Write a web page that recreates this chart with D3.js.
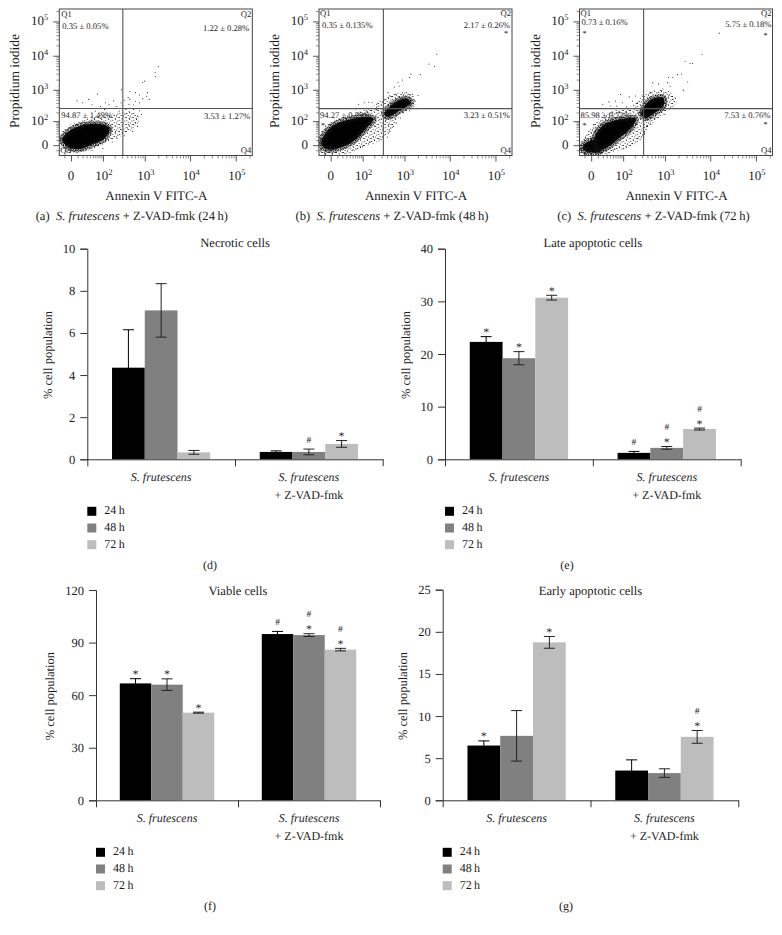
<!DOCTYPE html>
<html>
<head>
<meta charset="utf-8">
<title>S. frutescens flow cytometry</title>
<script src="https://d3js.org/d3.v7.min.js"></script>
<style>
  body { margin: 0; background: #fff; }
  svg { display: block; }
  text { font-family: "Liberation Serif", serif; fill: #1c1c1c; text-rendering: geometricPrecision; }
</style>
</head>
<body>
<svg id="chart" width="782" height="935"></svg>
<script>
// bar chart data
const groups = ['S. frutescens', 'S. frutescens + Z-VAD-fmk']
const timepoints = ['24\u2009h', '48\u2009h', '72\u2009h']

const necroticValues = [[4.35, 7.07, 0.33], [0.35, 0.35, 0.73]]
const necroticErrors = [[1.8, 1.27, 0.09], [0.05, 0.135, 0.16]]
const necroticMarks = [['', '', ''], ['', '#', '*']]

const lateValues = [[22.3, 19.2, 30.7], [1.22, 2.17, 5.75]]
const lateErrors = [[1.0, 1.25, 0.45], [0.28, 0.26, 0.18]]
const lateMarks = [['*', '*', '*'], ['#', '*#', '*#']]

const viableValues = [[66.7, 66, 50], [94.87, 94.27, 85.98]]
const viableErrors = [[2.7, 3.3, 0.3], [1.49, 0.79, 0.72]]
const viableMarks = [['*', '*', '*'], ['#', '*#', '*#']]

const earlyValues = [[6.5, 7.65, 18.75], [3.53, 3.23, 7.53]]
const earlyErrors = [[0.55, 3.0, 0.7], [1.27, 0.51, 0.76]]
const earlyMarks = [['*', '', '*'], ['', '', '*#']]

// flow cytometry data: [annexin, propidium iodide]
// the packed centre of each cloud is kept as an outline (core), its speckled edge as a lighter outline (halo)
const coreA = [[[-14, 11], [-3, 38], [11, 63], [47, 80], [110, 72], [150, 50], [110, 14], [47, 1], [11, -8], [-3, -4]]]
const haloA = [[-16, 15], [-5, 54], [11, 86], [60, 130], [225, 170], [533, 193], [700, 120], [400, 38], [150, 11], [60, -3], [11, -12], [-7, -10]]
const dotsA = [[2000, 4800], [1700, 3250], [1750, 2450], [1000, 1800], [900, 1650], [295, 1000], [460, 900], [620, 820],
  [760, 700], [1150, 820], [1100, 640], [900, 540], [1250, 513], [420, 580], [340, 480], [460, 513], [620, 450], [760, 405],
  [285, 405], [440, 360], [560, 345], [190, 460], [117, 405], [70, 750], [36, 513], [9, 460], [20, 405], [47, 350], [85, 310],
  [145, 350], [225, 310], [175, 267], [110, 250], [60, 220], [372, 250], [560, 250], [760, 225], [850, 170], [700, 150],
  [257, 220], [460, 130], [620, 86], [400, 54], [340, 22], [230, 14], [175, 6], [100, -6], [47, -10], [23, -12], [4, -14],
  [-7, -14], [-16, 3], [280, 47], [210, 38], [430, 75], [690, 63], [530, 38], [150, 150], [85, 125], [47, 110]]

const coreB = [
  [[-15, 7], [-3, 47], [11, 86], [47, 120], [117, 142], [190, 120], [117, 47], [52, 7], [21, -3], [0, -9], [-12, -3]],
  [[345, 170], [590, 405], [1150, 540], [1400, 405], [760, 225], [425, 140]]
]
const haloB = [[-18, 11], [-6, 63], [11, 114], [60, 170], [175, 250], [345, 513], [650, 725], [1400, 650], [1700, 360], [760, 170], [470, 46], [300, 15], [150, 3], [60, -9], [11, -18], [-12, -16]]
const dotsB = [[5200, 11000], [3500, 5700], [4650, 4900], [2250, 2800], [1400, 2900], [1300, 2300], [900, 1950], [720, 1650],
  [590, 1200], [760, 1300], [1100, 820], [2000, 670], [1500, 725], [425, 820], [620, 725], [900, 820], [1300, 725], [1700, 480],
  [340, 513], [470, 650], [230, 360], [175, 405], [110, 405], [76, 360], [145, 420], [40, 270], [65, 260], [230, 250], [125, 225],
  [1300, 225], [950, 193], [820, 130], [650, 86], [470, 38], [410, 18], [270, 11], [210, 63], [320, 54], [440, 75], [190, 18],
  [150, 6], [100, -3], [52, -9], [26, -18], [-18, -1], [-7, 20], [270, 114], [220, 150], [370, 100], [470, 150], [560, 63]]

const coreC = [
  [[-12, 0], [5, 11], [19, 3], [15, -13], [-3, -15], [-12, -9]],
  [[5, 20], [22, 74], [60, 108], [150, 130], [210, 125], [150, 46], [76, 15], [36, -2], [15, -9], [5, 0]],
  [[285, 170], [365, 360], [533, 540], [925, 580], [925, 320], [600, 193], [372, 130]]
]
const haloC = [[-19, 0], [-1, 38], [11, 99], [47, 193], [150, 250], [257, 455], [490, 820], [1190, 820], [1700, 455], [925, 193], [440, 74], [300, 20], [150, 0], [60, -9], [11, -20], [-12, -20]]
const dotsC = [[15700, 45500], [6600, 11000], [2800, 6900], [3600, 6000], [4100, 6000], [2350, 2900], [1900, 2800], [1500, 2300],
  [3200, 1700], [2550, 975], [1200, 2300], [1150, 1625], [720, 1500], [530, 1625], [1300, 1300], [900, 1050], [470, 820], [300, 650],
  [1500, 513], [1200, 650], [800, 950], [210, 650], [145, 610], [85, 725], [60, 455], [36, 430], [20, 360], [40, 320], [95, 405],
  [175, 455], [230, 405], [65, 320], [125, 300], [3, 74], [-3, 38], [-8, 15], [11, 46], [36, 130], [20, 193], [240, 193], [210, 80],
  [380, 63], [340, 31], [240, 15], [175, 3], [100, -7], [50, -9], [30, -20], [1000, 170], [1300, 270], [600, 130], [470, 85], [175, 63]]

const flowMajorTicks = [0, 100, 1000, 10000, 100000]
const flowMinorTicks = [-10, 10, 20, 30, 40, 50, 60, 70, 80, 90, 200, 300, 400, 500, 600, 700, 800, 900,
  2000, 3000, 4000, 5000, 6000, 7000, 8000, 9000, 20000, 30000, 40000, 50000, 60000, 70000, 80000, 90000, 200000]

const svg = d3.select('#chart')
svg.append('rect').attr('width', 782).attr('height', 935).attr('fill', '#fff')

const greys = ['#000000', '#808080', '#bdbdbd']

// speckle textures for the parts of the clouds too packed to read dot by dot
const defs = svg.append('defs')
function addSpeckle(id, size, spots, radius) {
  const pattern = defs.append('pattern').attr('id', id)
    .attr('patternUnits', 'userSpaceOnUse').attr('width', size).attr('height', size)
  pattern.selectAll('circle').data(spots).enter().append('circle')
    .attr('cx', d => d[0]).attr('cy', d => d[1]).attr('r', radius).attr('fill', '#111')
}
addSpeckle('sparse', 7, [[0.8, 1.2], [3.6, 0.5], [5.9, 2.1], [2.1, 3.4], [4.4, 4.1], [0.5, 5.6], [3.1, 6.2], [6.2, 5.5]], 0.5)
addSpeckle('dense', 5, [[0.5, 0.6], [2.2, 0.3], [3.9, 1.0], [1.2, 1.9], [2.9, 2.3], [4.6, 2.7], [0.3, 3.3], [2.0, 3.7], [3.6, 4.2], [1.0, 4.7]], 0.72)

/**
 * draw one flow cytometry dot plot
 *
 * @param {Object} p - panel layout and its data arrays
 */
function drawFlow(p) {
  const g = svg.append('g')
  const width = 193
  const top = 9
  const bottom = 155.5

  const x = d3.scaleSymlog().constant(25).domain([-20, 230000]).range([p.left, p.left + width])
  const y = d3.scaleSymlog().constant(25).domain([-25, 230000]).range([bottom, top])
  const outline = d3.line().x(d => x(d[0])).y(d => y(d[1])).curve(d3.curveCatmullRomClosed)

  g.append('path').attr('d', outline(p.halo))
    .attr('fill', 'url(#sparse)').attr('stroke', 'url(#sparse)').attr('stroke-width', 3)
  g.selectAll('path.core').data(p.core).enter().append('path')
    .attr('class', 'core')
    .attr('d', d => outline(d))
    .attr('fill', '#000')
    .attr('stroke', 'url(#dense)')
    .attr('stroke-width', 6)
  g.selectAll('circle').data(p.dots).enter().append('circle')
    .attr('cx', d => x(d[0]))
    .attr('cy', d => y(d[1]))
    .attr('r', 0.55)
    .attr('fill', '#222')

  // quadrant gates
  g.append('line').attr('x1', x(p.gate[0])).attr('x2', x(p.gate[0])).attr('y1', top).attr('y2', bottom)
    .attr('stroke', '#555').attr('stroke-width', 1.1)
  g.append('line').attr('x1', p.left).attr('x2', p.left + width).attr('y1', y(p.gate[1])).attr('y2', y(p.gate[1]))
    .attr('stroke', '#555').attr('stroke-width', 1.1)
  g.append('rect').attr('x', p.left).attr('y', top).attr('width', width).attr('height', bottom - top)
    .attr('fill', 'none').attr('stroke', '#444').attr('stroke-width', 1)

  // axes: short minor ticks, then the labelled major ones
  const minorX = d3.axisBottom(x).tickValues(flowMinorTicks).tickSize(3).tickFormat('')
  const minorY = d3.axisLeft(y).tickValues(flowMinorTicks).tickSize(3).tickFormat('')
  const majorX = d3.axisBottom(x).tickValues(flowMajorTicks).tickSize(6).tickPadding(9).tickFormat('')
  const majorY = d3.axisLeft(y).tickValues(flowMajorTicks).tickSize(6).tickPadding(4).tickFormat('')
  ;[[minorX, 0], [majorX, 1]].forEach(([a, major]) => {
    const ax = g.append('g').attr('transform', `translate(0,${bottom})`).call(a)
    ax.select('.domain').remove()
    ax.selectAll('line').attr('stroke', '#444').attr('stroke-width', major ? 0.9 : 0.6)
  })
  ;[[minorY, 0], [majorY, 1]].forEach(([a, major]) => {
    const ax = g.append('g').attr('transform', `translate(${p.left},0)`).call(a)
    ax.select('.domain').remove()
    ax.selectAll('line').attr('stroke', '#444').attr('stroke-width', major ? 0.9 : 0.6)
  })

  flowMajorTicks.forEach(t => {
    appendPower(g, t, x(t) + (t === 0 ? 0 : 1), 180, 'middle')
    appendPower(g, t, p.left - 11, y(t) + 4, 'end')
  })

  g.append('text').attr('x', p.left + 97).attr('y', 200).attr('text-anchor', 'middle')
    .attr('font-size', 13).text('Annexin V FITC-A')
  g.append('text').attr('transform', `translate(${p.left - 40},81) rotate(-90)`).attr('text-anchor', 'middle')
    .attr('font-size', 13.5).text('Propidium iodide')

  // quadrant names and percentages
  p.labels.forEach(l => {
    g.append('text').attr('x', p.left + l[1]).attr('y', l[2])
      .attr('text-anchor', l[3])
      .attr('font-size', l[0] === '*' ? 8 : 8.6)
      .text(l[0])
  })

  const caption = g.append('text').attr('x', p.left + p.captionDx).attr('y', 220).attr('text-anchor', 'middle').attr('font-size', 12.6)
  caption.append('tspan').text(`(${p.name})\u2002`)
  caption.append('tspan').attr('font-style', 'italic').text('S. frutescens')
  caption.append('tspan').text(` + Z-VAD-fmk (${p.hours}\u2009h)`)
}

function appendPower(g, value, px, py, anchor) {
  const t = g.append('text').attr('x', px).attr('y', py).attr('text-anchor', anchor).attr('font-size', 13)
  if(value === 0) {
    t.text('0')
    return
  }
  t.append('tspan').text('10')
  t.append('tspan').attr('font-size', 8.5).attr('dy', -5).text(Math.round(Math.log10(value)))
}

/**
 * draw one grouped bar panel with error bars, significance marks and legend
 *
 * @param {Object} p - panel layout and its data arrays
 */
function drawBars(p) {
  const g = svg.append('g')
  const y = d3.scaleLinear().domain([0, p.max]).range([p.y0, p.yTop])
  const x0 = d3.scaleBand().domain(d3.range(groups.length)).range([p.left, p.right]).paddingInner(0.335).paddingOuter(0.1675)
  const x1 = d3.scaleBand().domain(d3.range(timepoints.length)).range([0, x0.bandwidth()])

  const group = g.selectAll('g.group').data(p.values).enter().append('g')
    .attr('class', 'group')
    .attr('transform', (d, i) => `translate(${x0(i)},0)`)

  group.each(function(vals, gi) {
    const sel = d3.select(this)
    vals.forEach((v, i) => {
      const err = p.errors[gi][i]
      const cx = x1(i) + x1.bandwidth() / 2
      sel.append('rect').attr('x', x1(i)).attr('y', y(v))
        .attr('width', x1.bandwidth()).attr('height', p.y0 - y(v))
        .attr('fill', greys[i])
      const bar = sel.append('g').attr('stroke', i === 0 ? '#000' : '#222').attr('stroke-width', 1)
      bar.append('line').attr('x1', cx).attr('x2', cx).attr('y1', y(v + err)).attr('y2', y(v - err))
      bar.append('line').attr('x1', cx - 5.5).attr('x2', cx + 5.5).attr('y1', y(v + err)).attr('y2', y(v + err))
      bar.append('line').attr('x1', cx - 5.5).attr('x2', cx + 5.5).attr('y1', y(v - err)).attr('y2', y(v - err))

      const mark = p.marks[gi][i]
      const cap = y(v + err)
      if(mark.includes('*')) {
        sel.append('text').attr('x', cx).attr('y', cap - 0.5).attr('text-anchor', 'middle').attr('font-size', 12).text('*')
      }
      if(mark.includes('#')) {
        sel.append('text').attr('x', cx).attr('y', cap - (mark.includes('*') ? 16.5 : 6.5))
          .attr('text-anchor', 'middle').attr('font-size', 9.5).text('#')
      }
    })
  })

  // axes
  const yAxis = d3.axisLeft(y).tickValues(p.ticks).tickSize(7).tickPadding(5)
  const ax = g.append('g').attr('transform', `translate(${p.left},0)`).call(yAxis)
  ax.selectAll('text').attr('font-size', 12.5).attr('font-family', '"Liberation Serif", serif')
  ax.selectAll('line, path').attr('stroke', '#333')

  const xTick = d3.scaleLinear().domain([0, 2]).range([p.left, p.right])
  const xAxis = d3.axisBottom(xTick).tickValues([0, 1, 2]).tickSize(7).tickSizeOuter(0).tickFormat('')
  const bx = g.append('g').attr('transform', `translate(0,${p.y0})`).call(xAxis)
  bx.selectAll('line, path').attr('stroke', '#333')

  g.append('text').attr('x', (p.left + p.right) / 2).attr('y', p.yTop - 2 + p.titleDy).attr('text-anchor', 'middle')
    .attr('font-size', 12.6).text(p.title)
  g.append('text').attr('transform', `translate(${p.left + p.yTitleDx},${(p.y0 + p.yTop) / 2 + 1}) rotate(-90)`)
    .attr('text-anchor', 'middle').attr('font-size', 12.5).text('% cell population')

  // group names
  const step = (p.right - p.left) / 2
  g.append('text').attr('x', p.left + step / 2).attr('y', p.y0 + 21.5).attr('text-anchor', 'middle')
    .attr('font-size', 12).attr('font-style', 'italic').text('S. frutescens')
  g.append('text').attr('x', p.left + step * 1.5).attr('y', p.y0 + 21.5).attr('text-anchor', 'middle')
    .attr('font-size', 12).attr('font-style', 'italic').text('S. frutescens')
  g.append('text').attr('x', p.left + step * 1.5).attr('y', p.y0 + 40).attr('text-anchor', 'middle')
    .attr('font-size', 12).text('+ Z-VAD-fmk')

  // legend
  timepoints.forEach((t, i) => {
    g.append('rect').attr('x', p.left).attr('y', p.y0 + 47.5 + i * 16.7).attr('width', 9).attr('height', 9).attr('fill', greys[i])
    g.append('text').attr('x', p.left + 17).attr('y', p.y0 + 55 + i * 16.7).attr('font-size', 12).text(t)
  })

  g.append('text').attr('x', p.labelX).attr('y', p.y0 + 110).attr('text-anchor', 'middle').attr('font-size', 12).text(`(${p.name})`)
}

drawFlow({
  name: 'a', hours: 24, left: 59.3, captionDx: 72.5, core: coreA, halo: haloA, dots: dotsA, gate: [315, 267],
  labels: [['Q1', 2, 17, 'start'], ['0.35 ± 0.05%', 3, 28.5, 'start'], ['Q2', 192, 17, 'end'], ['1.22 ± 0.28%', 190, 31, 'end'],
    ['94.87 ± 1.49%', 2, 118, 'start'], ['3.53 ± 1.27%', 191, 119, 'end'], ['Q3', 1, 153, 'start'], ['Q4', 192, 153, 'end']]
})
drawFlow({
  name: 'b', hours: 48, left: 319, captionDx: 73, core: coreB, halo: haloB, dots: dotsB, gate: [330, 265],
  labels: [['Q1', 1, 16, 'start'], ['0.35 ± 0.135%', 3, 28, 'start'], ['Q2', 192, 16, 'end'], ['2.17 ± 0.26%', 191, 28, 'end'], ['*', 187, 36, 'middle'],
    ['94.27 ± 0.79%', 1, 118, 'start'], ['*', 4, 127.5, 'middle'], ['3.23 ± 0.51%', 191, 118, 'end'], ['Q3', 1, 153, 'start'], ['Q4', 192, 153, 'end']]
})
drawFlow({
  name: 'c', hours: 72, left: 579.5, captionDx: 74, core: coreC, halo: haloC, dots: dotsC, gate: [325, 265],
  labels: [['Q1', 1, 16, 'start'], ['0.73 ± 0.16%', 2, 25, 'start'], ['*', 5, 36, 'middle'], ['Q2', 192, 16, 'end'], ['5.75 ± 0.18%', 192, 27, 'end'], ['*', 186, 38, 'middle'],
    ['85.98 ± 0.72%', 1, 118, 'start'], ['*', 5, 127.5, 'middle'], ['7.53 ± 0.76%', 191, 118, 'end'], ['*', 186, 127, 'middle'], ['Q3', 1, 153, 'start'], ['Q4', 192, 153, 'end']]
})

drawBars({ name: 'd', title: 'Necrotic cells', left: 87.3, right: 382.7, y0: 459.3, yTop: 248.7, titleDy: 0, yTitleDx: -35, max: 10, ticks: [0, 2, 4, 6, 8, 10], labelX: 210,
  values: necroticValues, errors: necroticErrors, marks: necroticMarks })
drawBars({ name: 'e', title: 'Late apoptotic cells', left: 445, right: 740.7, y0: 459.3, yTop: 248.7, titleDy: 0, yTitleDx: -35, max: 40, ticks: [0, 10, 20, 30, 40], labelX: 567,
  values: lateValues, errors: lateErrors, marks: lateMarks })
drawBars({ name: 'f', title: 'Viable cells', left: 96, right: 380, y0: 800.3, yTop: 590, titleDy: 7, yTitleDx: -42, max: 120, ticks: [0, 30, 60, 90, 120], labelX: 210,
  values: viableValues, errors: viableErrors, marks: viableMarks })
drawBars({ name: 'g', title: 'Early apoptotic cells', left: 442.7, right: 738.3, y0: 800.3, yTop: 589.7, titleDy: 7, yTitleDx: -36, max: 25, ticks: [0, 5, 10, 15, 20, 25], labelX: 566,
  values: earlyValues, errors: earlyErrors, marks: earlyMarks })
</script>
</body>
</html>
